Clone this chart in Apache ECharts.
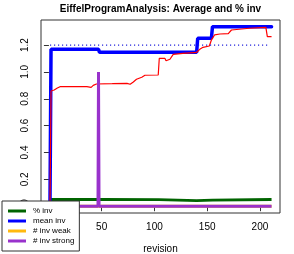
<!DOCTYPE html>
<html>
<head>
<meta charset="utf-8">
<script src="https://cdn.jsdelivr.net/npm/echarts@6/dist/echarts.min.js"></script>
<style>html,body{margin:0;padding:0;background:#fff;}#c{width:294px;height:254px;}</style>
</head>
<body>
<div id="c"></div>
<script>
const titleText = 'EiffelProgramAnalysis: Average and % inv';
const seriesNames = ['% inv', 'mean inv', '# inv weak', '# inv strong'];
const xTicks = [0, 50, 100, 150, 200];
const yTicks = [0, 0.2, 0.4, 0.6, 0.8, 1.0, 1.2];
const threshold = 1.2;
const thresholdRange = [1, 209];

const pctInv = [[1,0.05],[50,0.05],[104,0.049],[105,0.041],[140,0.041],[141,0.046],[155,0.046],[156,0.05],[211,0.05]];
const meanInv = [[1,0],[2,1.168],[47,1.168],[48,1.146],[140,1.146],[141,1.25],[154,1.25],[155,1.337],[211,1.337]];
const invWeak = [[1,0],[211,0]];
const invStrong = [[1,0],[46.5,0],[47,1.0],[47.5,0],[211,0]];
const redLine = [[1,0],[2,0.858],[5,0.865],[8,0.88],[10.5,0.89],[36,0.89],[37,0.882],[40,0.885],[42,0.9],[45,0.91],[60,0.912],[74,0.915],[77,0.908],[80,0.925],[83,0.945],[88,0.96],[91,0.975],[103.6,0.977],[104.6,1.101],[110,1.1],[111,1.083],[114.7,1.094],[117.8,1.131],[127,1.138],[140,1.146],[143,1.168],[146,1.183],[152,1.193],[154,1.238],[157,1.275],[162,1.282],[170,1.285],[173,1.312],[190,1.325],[205.6,1.332],[207,1.262],[211,1.262]];

const font = 'Liberation Sans, Arial, Helvetica, sans-serif';
const chart = echarts.init(document.getElementById('c'), null, {renderer: 'canvas'});
chart.setOption({
  animation: false,
  backgroundColor: '#fff',
  title: {
    text: titleText, left: 160.5, top: 4, textAlign: 'center', padding: 0,
    textStyle: {fontSize: 10, fontWeight: 'bold', fontFamily: font, color: '#000'}
  },
  grid: {left: 41, right: 14, top: 20, bottom: 41, show: true, borderColor: '#333', borderWidth: 1,
    backgroundColor: 'transparent', outerBoundsMode: 'none', containLabel: false},
  xAxis: {
    type: 'value', min: -7.5, max: 219,
    name: 'revision', nameLocation: 'middle', nameGap: 31,
    nameTextStyle: {fontSize: 10, fontFamily: font, color: '#000'},
    axisLine: {show: false},
    axisTick: {show: true, length: 5, customValues: xTicks, lineStyle: {color: '#333'}},
    axisLabel: {customValues: xTicks, margin: 9, fontSize: 10, fontFamily: font, color: '#000'},
    splitLine: {show: false}
  },
  yAxis: {
    type: 'value', min: -0.0506, max: 1.3864,
    axisLine: {show: false},
    axisTick: {show: true, length: 5, customValues: yTicks, lineStyle: {color: '#333'}},
    axisLabel: {customValues: yTicks, rotate: 90, margin: 11, fontSize: 10, fontFamily: font, color: '#000',
      formatter: v => v.toFixed(1)},
    splitLine: {show: false}
  },
  legend: {
    data: seriesNames, orient: 'vertical', left: 2, top: 201,
    padding: [5, 5, 5, 6], itemGap: 0, itemWidth: 18, itemHeight: 3, icon: 'rect',
    backgroundColor: '#fff', borderColor: '#333', borderWidth: 1, borderRadius: 0,
    textStyle: {fontSize: 8, lineHeight: 10, fontFamily: font, color: '#000', padding: [0, 0, 0, 2]},
    z: 10
  },
  series: [
    {name: seriesNames[0], type: 'line', data: pctInv, showSymbol: false, color: '#006400', lineStyle: {width: 2.8, color: '#006400'}},
    {name: seriesNames[1], type: 'line', data: meanInv, showSymbol: false, color: '#0000ff', lineStyle: {width: 3.5, color: '#0000ff', cap: 'round'}},
    {name: 'avg', type: 'line', data: redLine, showSymbol: false, color: '#ff0000', lineStyle: {width: 1.2, color: '#ff0000'}},
    {name: seriesNames[2], type: 'line', data: invWeak, showSymbol: false, color: '#ffb90f', lineStyle: {width: 3, color: '#ffb90f'}},
    {name: seriesNames[3], type: 'line', data: invStrong, showSymbol: false, color: '#9932cc', lineStyle: {width: 3, color: '#9932cc'}},
    {name: 'threshold', type: 'line', data: [[thresholdRange[0], threshold], [thresholdRange[1], threshold]], showSymbol: false, color: '#2222dd',
      lineStyle: {width: 1.2, color: '#2222dd', type: [1.2, 2.8]}}
  ]
});
</script>
</body>
</html>
